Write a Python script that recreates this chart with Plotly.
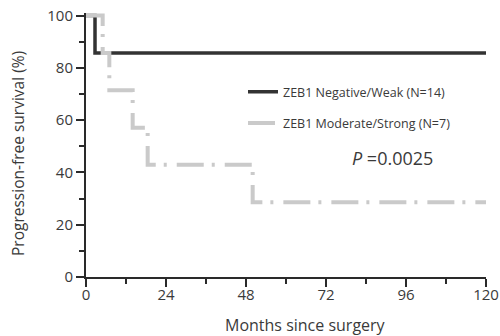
import plotly.graph_objects as go

# Kaplan-Meier step data (months, % progression-free survival)
neg_months = [0, 2.7, 120]
neg_surv = [100, 85.7, 85.7]
mod_months = [0, 5, 7, 14, 18.5, 50, 120]
mod_surv = [100, 85.7, 71.4, 57.1, 42.9, 28.6, 28.6]

neg_name = "ZEB1 Negative/Weak (N=14)"
mod_name = "ZEB1 Moderate/Strong (N=7)"
x_ticks = [0, 24, 48, 72, 96, 120]
y_ticks = [0, 20, 40, 60, 80, 100]

FONT = "Open Sans"
TXT = "#3a3a3a"
AX = "#2a2a2a"

fig = go.Figure()
fig.add_trace(go.Scatter(
    x=neg_months, y=neg_surv, mode="lines", line_shape="hv",
    line=dict(color="#333333", width=3.5), name=neg_name,
    legendgroup="a"))
fig.add_trace(go.Scatter(
    x=mod_months, y=mod_surv, mode="lines", line_shape="hv",
    line=dict(color="#cacaca", width=4, dash="27px,8px,3px,10px"),
    name=mod_name, legendgroup="b"))

fig.update_layout(
    width=500, height=336,
    margin=dict(l=86, r=14, t=13, b=59, autoexpand=False),
    paper_bgcolor="white", plot_bgcolor="white",
    font=dict(family=FONT, color=TXT),
    legend=dict(x=0.3925, y=0.757, xanchor="left", yanchor="top",
                font=dict(size=12.5, color=TXT, family=FONT),
                bgcolor="rgba(0,0,0,0)", tracegroupgap=12,
                traceorder="grouped"),
    xaxis=dict(range=[0, 120], tickvals=x_ticks, ticks="outside", ticklen=8,
               tickwidth=1.5, tickcolor=AX, showline=True, linecolor=AX,
               linewidth=2, showgrid=False, zeroline=False, automargin=False,
               ticklabeloverflow="allow", ticklabelstandoff=-5,
               tickfont=dict(size=15, color=TXT),
               minor=dict(dtick=12, tick0=0, ticks="outside", ticklen=5,
                          tickwidth=1.5, tickcolor=AX)),
    yaxis=dict(range=[0, 101], tickvals=y_ticks, ticks="outside", ticklen=8,
               tickwidth=1.5, tickcolor=AX, showline=True, linecolor=AX,
               linewidth=2, showgrid=False, zeroline=False, automargin=False,
               ticklabeloverflow="allow",
               tickfont=dict(size=15, color=TXT),
               minor=dict(dtick=10, tick0=0, ticks="outside", ticklen=5,
                          tickwidth=1.5, tickcolor=AX)),
    annotations=[
        dict(text="Months since surgery", xref="paper", yref="paper",
             x=0.5475, y=-0.18, xanchor="center", yanchor="middle",
             showarrow=False, font=dict(size=16, color=TXT)),
        dict(text="Progression-free survival (%)", xref="paper", yref="paper",
             x=-0.17, y=0.466, textangle=-90, xanchor="center",
             yanchor="middle", showarrow=False,
             font=dict(size=15.5, color=TXT)),
        dict(text="<i>P</i> =0.0025", xref="paper", yref="paper",
             x=0.66, y=0.452, xanchor="left", yanchor="middle",
             showarrow=False, font=dict(size=18, color=TXT)),
    ],
)

fig.write_html("out.html",
               config={"displayModeBar": False},
               post_script="document.body.style.margin='0';"
                           "document.body.style.overflow='hidden';")
